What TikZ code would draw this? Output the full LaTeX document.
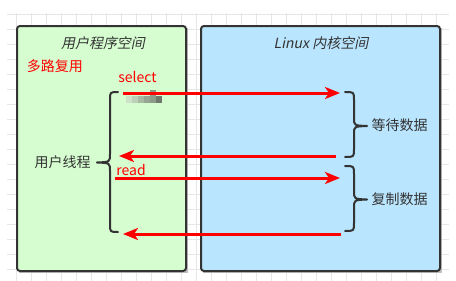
\documentclass[tikz,border=0pt]{standalone}
\usepackage{fontspec}
\setmainfont{Noto Sans CJK SC}
\newfontfamily\cjkit[FakeSlant=0.2]{Noto Sans CJK SC}
\usetikzlibrary{arrows.meta}
\definecolor{gridc}{HTML}{E6E6E6}
\definecolor{greenfill}{HTML}{D6FDD0}
\definecolor{bluefill}{HTML}{B9E5FE}
\definecolor{edgec}{HTML}{333333}
\definecolor{txt}{HTML}{333333}
\definecolor{redc}{HTML}{FF0000}
\tikzset{
  panel/.style={draw=edgec, line width=2pt, rounded corners=3pt},
  title/.style={inner sep=0pt, text=txt, font=\cjkit\fontsize{14pt}{16pt}\selectfont},
  lbl/.style={inner sep=0pt, text=txt, font=\fontsize{14pt}{16pt}\selectfont},
  redlbl/.style={inner sep=0pt, text=redc, font=\fontsize{14pt}{16pt}\selectfont},
  call/.style={draw=redc, line width=3pt, -{Stealth[length=15pt,width=12pt,inset=4pt]}},
  bracec/.style={draw=edgec, line width=2pt, line cap=round, line join=round},
  gridline/.style={draw=gridc, line width=1pt}
}
\begin{document}
\begin{tikzpicture}[x=1pt,y=-1pt]
\useasboundingbox (0,0) rectangle (456,281);
\fill[white] (0,0) rectangle (456,281);
% grid
\foreach \gx in {16,31,...,436} \draw[gridline] (\gx,13) -- (\gx,281);
\foreach \gy in {14,29,...,269} \draw[gridline] (7,\gy) -- (449,\gy);
% panels
\fill[black!25] (19,28) rectangle (188,273);
\fill[black!25] (203,28) rectangle (442,273);
\draw[panel, fill=greenfill] (17,26) rectangle (186,271);
\draw[panel, fill=bluefill] (201,26) rectangle (440,271);
% titles
\node[title] (usert) at (103,43) {用户程序空间};
\node[title] (kernt) at (321,43) {Linux 内核空间};
\node[redlbl] (mux) at (55,66) {多路复用};
\node[redlbl] (sel) at (137.5,77) {select};
\node[redlbl] (rd) at (131,170) {read};
\node[lbl] (uth) at (62.5,162.5) {用户线程};
\node[lbl] (wait) at (399.5,125.5) {等待数据};
\node[lbl] (copy) at (399.5,199.5) {复制数据};
% blurred patch
\fill[fill={rgb,255:red,206;green,226;blue,202}] (126,96) rectangle (132,103);
\fill[fill={rgb,255:red,188;green,208;blue,184}] (132,96) rectangle (138,103);
\fill[fill={rgb,255:red,168;green,186;blue,164}] (138,96) rectangle (144,103);
\fill[fill={rgb,255:red,150;green,166;blue,146}] (144,96) rectangle (150,103);
\fill[fill={rgb,255:red,140;green,154;blue,136}] (150,90) rectangle (156,103);
\fill[fill={rgb,255:red,110;green,120;blue,108}] (156,96) rectangle (162,103);
% braces
\draw[bracec] (118,92) .. controls (110,92) .. (110,100) -- (110,154) .. controls (110,162) .. (97,162.5) .. controls (110,163) .. (110,171) -- (110,224) .. controls (110,232) .. (118,232);
\draw[bracec] (345,92) .. controls (354,92) .. (354,100) -- (354,118) .. controls (354,125.5) .. (367,126) .. controls (354,126.5) .. (354,134) -- (354,149) .. controls (354,157) .. (345,157);
\draw[bracec] (345,166) .. controls (354,166) .. (354,174) -- (354,191) .. controls (354,199) .. (367,199.5) .. controls (354,200) .. (354,208) -- (354,223) .. controls (354,231) .. (345,231);
% arrow endpoints
\coordinate (a1s) at (123,93);
\coordinate (a1e) at (340,93);
\coordinate (a2s) at (336,156);
\coordinate (a2e) at (119,156);
\coordinate (a3s) at (115,178);
\coordinate (a3e) at (340,178);
\coordinate (a4s) at (341,234);
\coordinate (a4e) at (123,234);
\draw[call] (a1s) -- (a1e);
\draw[call] (a2s) -- (a2e);
\draw[call] (a3s) -- (a3e);
\draw[call] (a4s) -- (a4e);
\end{tikzpicture}
\end{document}
